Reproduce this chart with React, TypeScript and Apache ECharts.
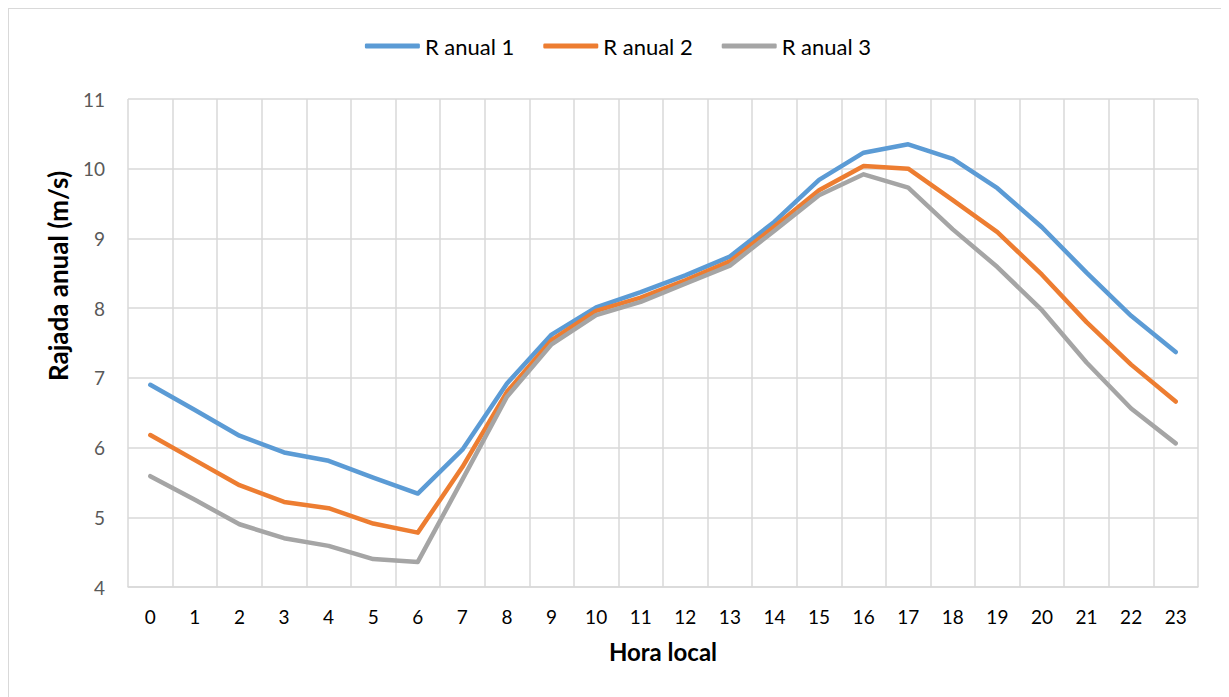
import React, { useEffect, useRef } from "react";
import * as echarts from "echarts";

const hours = ["0","1","2","3","4","5","6","7","8","9","10","11","12","13","14","15","16","17","18","19","20","21","22","23"];
const rAnual1 = [6.90, 6.54, 6.17, 5.93, 5.81, 5.57, 5.34, 5.97, 6.92, 7.62, 8.01, 8.23, 8.47, 8.74, 9.24, 9.84, 10.23, 10.35, 10.14, 9.72, 9.16, 8.51, 7.89, 7.37];
const rAnual2 = [6.18, 5.82, 5.46, 5.22, 5.13, 4.91, 4.78, 5.72, 6.80, 7.54, 7.96, 8.15, 8.40, 8.67, 9.17, 9.69, 10.04, 10.00, 9.55, 9.09, 8.48, 7.80, 7.19, 6.66];
const rAnual3 = [5.59, 5.25, 4.90, 4.70, 4.59, 4.40, 4.36, 5.54, 6.73, 7.48, 7.90, 8.09, 8.35, 8.61, 9.11, 9.62, 9.92, 9.73, 9.13, 8.59, 7.97, 7.22, 6.56, 6.06];
const seriesNames = ["R anual 1", "R anual 2", "R anual 3"];
const colors = ["#5B9BD5", "#ED7D31", "#A5A5A5"];

export default function App() {
  const ref = useRef<HTMLDivElement>(null);
  useEffect(() => {
    if (!ref.current) return;
    const chart = echarts.init(ref.current, null, { renderer: "svg" });
    const font = "Lato, 'Open Sans', sans-serif";
    const data = [rAnual1, rAnual2, rAnual3];
    chart.setOption({
      animation: false,
      color: colors,
      textStyle: { fontFamily: font },
      legend: {
        top: 21,
        left: "center",
        icon: "roundRect",
        itemWidth: 55,
        itemHeight: 5,
        itemGap: 29,
        textStyle: { fontSize: 22, color: "#000", fontFamily: font },
        data: seriesNames,
      },
      grid: { left: 119, right: 29, top: 90, bottom: 110 },
      xAxis: {
        type: "category",
        data: hours,
        boundaryGap: true,
        name: "Hora local",
        nameLocation: "middle",
        nameGap: 52,
        nameTextStyle: { fontSize: 24, fontWeight: "bold", color: "#000", fontFamily: font },
        axisLine: { show: true, lineStyle: { color: "#d9d9d9", width: 1.5 } },
        axisTick: { show: false },
        axisLabel: { fontSize: 19, color: "#000", margin: 20, fontFamily: font },
        splitLine: { show: true, lineStyle: { color: "#d9d9d9", width: 1.5 } },
      },
      yAxis: {
        type: "value",
        min: 4,
        max: 11,
        interval: 1,
        name: "Rajada anual (m/s)",
        nameLocation: "middle",
        nameGap: 57,
        nameTextStyle: { fontSize: 26, fontWeight: "bold", color: "#000", fontFamily: font, padding: [0, 0, 0, 134] },
        axisLine: { show: false },
        axisTick: { show: false },
        axisLabel: { fontSize: 19, color: "#595959", margin: 23, fontFamily: font },
        splitLine: { show: true, lineStyle: { color: "#d9d9d9", width: 1.5 } },
      },
      series: data.map((d, i) => ({
        name: seriesNames[i],
        type: "line",
        data: d,
        symbol: "none",
        lineStyle: { width: 4.5, color: colors[i], cap: "round", join: "round" },
      })),
    });
    return () => chart.dispose();
  }, []);
  return (
    <div style={{ width: 1220, height: 690, border: "1px solid #d9d9d9", boxSizing: "border-box", background: "#fff" }}>
      <div ref={ref} style={{ width: "100%", height: "100%" }} />
    </div>
  );
}
